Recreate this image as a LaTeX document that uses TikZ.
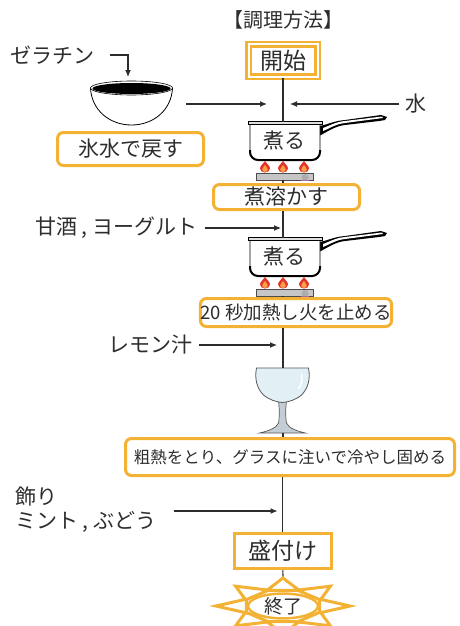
\documentclass[tikz,border=0pt]{standalone}
\usepackage{fontspec}
\setmainfont{Noto Sans CJK JP}
\usepackage{tikz}
\usetikzlibrary{arrows.meta,shapes.geometric}

\definecolor{boxorange}{RGB}{244,178,52}
\definecolor{ink}{RGB}{45,45,45}
\definecolor{flamered}{RGB}{226,52,40}
\definecolor{flameorange}{RGB}{247,160,72}
\definecolor{glassblue}{RGB}{226,240,246}
\definecolor{stemgray}{RGB}{196,204,214}

\tikzset{
  lbl/.style={text=ink,inner sep=0pt,font=\fontsize{21}{24}\selectfont},
  stepbox/.style={lbl,draw=boxorange,line width=3pt,rounded corners=6pt,fill=white},
  flow/.style={draw=ink,line width=1.1pt},
  arr/.style={flow,-{Latex[length=7pt,width=6pt]}},
  ray/.style={draw=boxorange,fill=white,line width=3pt},
  pics/saucepan/.style={code={
    % handle
    \fill[black] (36,-14) .. controls (44,-15) and (50,-19) .. (62,-20) -- (98,-25)
      -- (104,-23) -- (102,-20) -- (96,-19) -- (62,-15) .. controls (52,-14) and (44,-8) .. (36,-4) -- cycle;
    \fill[white] (40,-12) .. controls (46,-14) and (52,-18) .. (62,-19) -- (99,-23.5)
      -- (100,-22) -- (62,-17) .. controls (52,-16) and (46,-11) .. (40,-9) -- cycle;
    % body and rim
    \draw[fill=white,line width=0.8pt,rounded corners=8pt] (-33,-16) -- (-33,20) -- (37,20) -- (37,-16);
    \draw[line width=2pt,rounded corners=8pt] (-33,10) -- (-33,20) -- (37,20) -- (37,10);
    \draw[fill=gray!25,line width=0.6pt] (-35,-18.5) rectangle (39,-15.5);
    \node[lbl] (-txt) at (1,0) {煮る};
    % burner
    \foreach \fx in {-18,0,21}{
      \begin{scope}[shift={(\fx,0)}]
        \fill[flamered] (0,21) .. controls (1,24) and (5,25) .. (5,28.5) .. controls (5,31) and (2.5,32.5) .. (0,32.5)
          .. controls (-2.5,32.5) and (-5,31) .. (-5,28.5) .. controls (-5,25) and (-1,24) .. (0,21) -- cycle;
        \fill[flameorange] (0,25) .. controls (1,27) and (2.8,28) .. (2.8,29.5) .. controls (2.8,31) and (1.5,32) .. (0,32)
          .. controls (-1.5,32) and (-2.8,31) .. (-2.8,29.5) .. controls (-2.8,28) and (-1,27) .. (0,25) -- cycle;
      \end{scope}}
    \draw[fill=gray!45,draw=gray!60!black,line width=0.6pt] (-27,33) rectangle (30,40);
    \fill[gray!65] (22,37.5) circle (3.5);
    \draw[violet!60,line width=1pt] (18,40.5) -- (26,40.5);
    \coordinate (-rim) at (0,-18.5);
    \coordinate (-stove) at (0,40);
  }}
}

\begin{document}
\begin{tikzpicture}[x=1pt,y=-1pt]
  \useasboundingbox (0,0) rectangle (459,626);
  \clip (0,0) rectangle (459,626);
  %\draw[very thin,lightgray] (0,0) grid[step=50] (459,626);

  \node[lbl,font=\fontsize{20}{22}\selectfont] (title) at (283,20) {【調理方法】};
  \node[stepbox,rounded corners=0pt,line width=2.5pt,double=white,double distance=2pt,
    minimum width=69pt,minimum height=32pt,font=\fontsize{23}{24}\selectfont] (start) at (283,60.5) {開始};

  % gelatine bowl
  \node[lbl] (gel) at (52,55) {ゼラチン};
  \begin{scope}[shift={(131.5,88)}]
    \draw[fill=white,line width=0.8pt] (-41,0) .. controls (-40,22) and (-22,37) .. (0,37)
      .. controls (22,37) and (40,22) .. (41,0) -- cycle;
    \draw[fill=white,line width=0.6pt] (0,0) ellipse [x radius=41,y radius=7];
    \fill[black] (0,0.5) ellipse [x radius=39,y radius=5.5];
    \coordinate (bowl-in) at (-3.5,-11);
    \coordinate (bowl-out) at (54.5,16);
  \end{scope}
  \node[stepbox,minimum width=146pt,minimum height=33pt] (soak) at (130.5,149) {氷水で戻す};
  \draw[arr] ([xshift=16pt]gel.east) -| (bowl-in);

  \node[lbl] (water) at (416,104) {水};
  \coordinate (mix) at (283,104);
  \draw[arr] (bowl-out) -- ([xshift=-16pt]mix);
  \draw[arr] ([xshift=-6pt]water.west) -- ([xshift=7pt]mix);

  % first boil
  \pic (pan1) at (283,140) {saucepan};
  \node[stepbox,minimum width=146pt,minimum height=25pt] (melt) at (286.5,197) {煮溶かす};
  \draw[flow] (start) -- (pan1-rim);
  \draw[flow] (pan1-stove) -- (pan1-stove |- melt.north);

  % second boil
  \node[lbl,anchor=west] (amazake) at (35,228) {甘酒 , ヨーグルト};
  \pic (pan2) at (283,256) {saucepan};
  \node[stepbox,minimum width=185pt,minimum height=28pt,font=\fontsize{18.5}{22}\selectfont] (heat) at (296,312.5) {20 秒加熱し火を止める};
  \draw[flow] (melt.south -| pan2-rim) -- (pan2-rim);
  \draw[flow] (pan2-stove) -- (pan2-stove |- heat.north);
  \draw[arr] ([xshift=7pt]amazake.east) -- ([xshift=-2pt]amazake.east -| pan2-rim);

  % glass
  \node[lbl,anchor=west] (lemon) at (108,345) {レモン汁};
  \begin{scope}[shift={(282.5,368)}]
    \draw[fill=stemgray,draw=gray!70!black,line width=0.7pt] (-4,33) -- (4,33) .. controls (3,40) and (3,50) .. (4,55)
      .. controls (6,60) and (14,63) .. (23,65) -- (-23,65) .. controls (-14,63) and (-6,60) .. (-4,55)
      .. controls (-3,50) and (-3,40) .. (-4,33) -- cycle;
    \draw[fill=glassblue,draw=gray!70!black,line width=0.8pt] (-26,0) -- (26,0) .. controls (28,10) and (26,20) .. (19,27)
      .. controls (13,32) and (6,34) .. (0,34.5) .. controls (-6,34) and (-13,32) .. (-19,27)
      .. controls (-26,20) and (-28,10) .. (-26,0) -- cycle;
    \draw[white,line width=1.5pt,line cap=round] (19,6) .. controls (20,12) and (19,17) .. (16,21);
    \coordinate (glass-top) at (0.5,0);
    \coordinate (glass-foot) at (0.5,65);
  \end{scope}
  \node[stepbox,minimum width=329pt,minimum height=37pt,font=\fontsize{16.5}{20}\selectfont] (cool) at (290,457) {粗熱をとり、グラスに注いで冷やし固める};
  \draw[flow] (heat.south -| glass-top) -- (glass-top);
  \draw[flow] (glass-foot) -- (glass-foot |- cool.north);
  \draw[arr] ([xshift=7pt]lemon.east) -- ([xshift=-6pt]lemon.east -| glass-top);

  % serving
  \node[lbl,anchor=west,align=left] (garnish) at (15,509.5) {飾り\\ミント , ぶどう};
  \node[stepbox,rounded corners=0pt,minimum width=97pt,minimum height=35pt,font=\fontsize{23}{24}\selectfont] (serve) at (282.5,551) {盛付け};
  \draw[flow] (cool.south -| serve) -- (serve);
  \draw[arr] ([xshift=17pt,yshift=-1.5pt]garnish.east) -- ([xshift=-5pt,yshift=-1.5pt]garnish.east -| serve);

  % end mark
  \coordinate (donetip) at (283,577);
  \draw[flow] (serve) -- (donetip);
  \begin{scope}[shift={(283,606)}]
    \foreach \a in {0,45,...,315}
      \draw[ray] ({40*cos(\a-24)},{17*sin(\a-24)}) -- ({67*cos(\a)},{28*sin(\a)}) -- ({40*cos(\a+24)},{17*sin(\a+24)}) -- cycle;
  \end{scope}
  \node[ellipse,draw=boxorange,line width=2.5pt,fill=white,minimum width=70pt,minimum height=22pt,inner sep=0pt,
    text=ink,font=\fontsize{19}{20}\selectfont] (done) at (283,606) {終了};
\end{tikzpicture}
\end{document}
